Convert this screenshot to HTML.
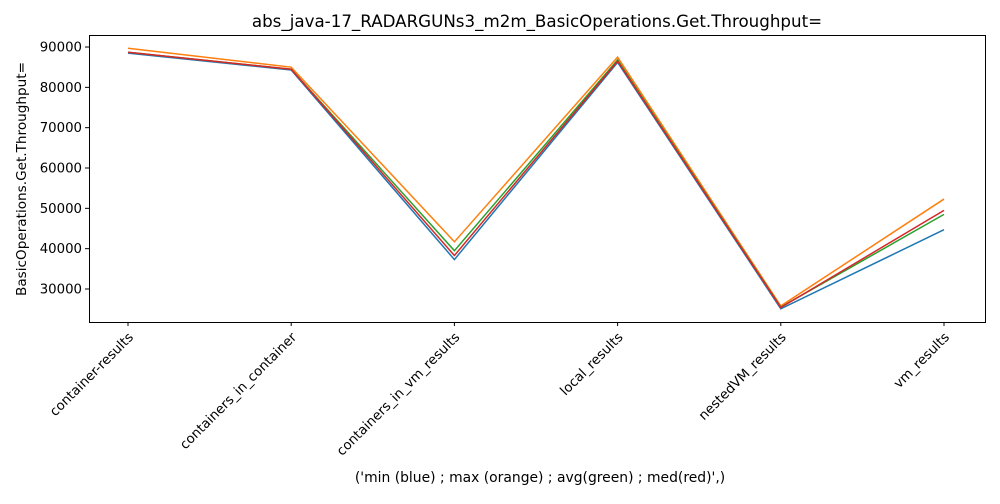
<!DOCTYPE html>
<html><head><meta charset="utf-8"><style>
body{margin:0;background:#fff;font-family:"DejaVu Sans","Liberation Sans",sans-serif;}
svg text{font-family:"DejaVu Sans","Liberation Sans",sans-serif;}
</style></head><body>
<svg width="1000" height="500" viewBox="0 0 1000 500">
<rect width="1000" height="500" fill="#fff"/>
<text x="537" y="27" text-anchor="middle" font-size="16.7">abs_java-17_RADARGUNs3_m2m_BasicOperations.Get.Throughput=</text>
<g id="axes"></g>
<g id="series"></g>
<rect x="89.5" y="35.5" width="896" height="287" fill="none" stroke="#000" stroke-width="1"/>
<text x="540" y="482" text-anchor="middle" font-size="13.9">('min (blue) ; max (orange) ; avg(green) ; med(red)',)</text>
<text transform="translate(26,179) rotate(-90)" text-anchor="middle" font-size="13.6">BasicOperations.Get.Throughput=</text>
</svg>
<script>
const categories=["container-results","containers_in_container","containers_in_vm_results","local_results","nestedVM_results","vm_results"];
const minVals=[88500,84300,37300,86200,25100,44700];
const maxVals=[89700,85000,41700,87500,25800,52300];
const avgVals=[88700,84500,39500,86800,25500,48500];
const medVals=[88700,84500,38300,86500,25400,49500];
const yTicks=[30000,40000,50000,60000,70000,80000,90000];
const NS="http://www.w3.org/2000/svg";
const x=i=>128+i*163.2;
const y=v=>289-(v-30000)*0.004033;
const axes=document.getElementById('axes');
function mk(t,a,p){const e=document.createElementNS(NS,t);for(const k in a)e.setAttribute(k,a[k]);p.appendChild(e);return e;}
yTicks.forEach(v=>{
 const l=mk('line',{x1:85,x2:89,y1:y(v),y2:y(v),stroke:'#000'},axes);
 
 
 const t=mk('text',{x:82,y:y(v)+4.5,'text-anchor':'end','font-size':13.3},axes);
 t.textContent=v;
 
 
});
categories.forEach((c,i)=>{
 const l=mk('line',{x1:x(i),x2:x(i),y1:322,y2:326,stroke:'#000'},axes);
 
 
 const t=mk('text',{transform:`translate(${x(i)+6},${338}) rotate(-45)`,'text-anchor':'end','font-size':13.3},axes);
 t.textContent=c;
 
 
});
const ser=document.getElementById('series');
[[minVals,'#1f77b4','min-line'],[maxVals,'#ff7f0e','max-line'],[avgVals,'#2ca02c','avg-line'],[medVals,'#d62728','med-line']].forEach(([d,c,n])=>{
 const p=mk('polyline',{points:d.map((v,i)=>x(i)+','+y(v)).join(' '),fill:'none',stroke:c,'stroke-width':1.5},ser);
 
 
});
</script>
</body></html>
